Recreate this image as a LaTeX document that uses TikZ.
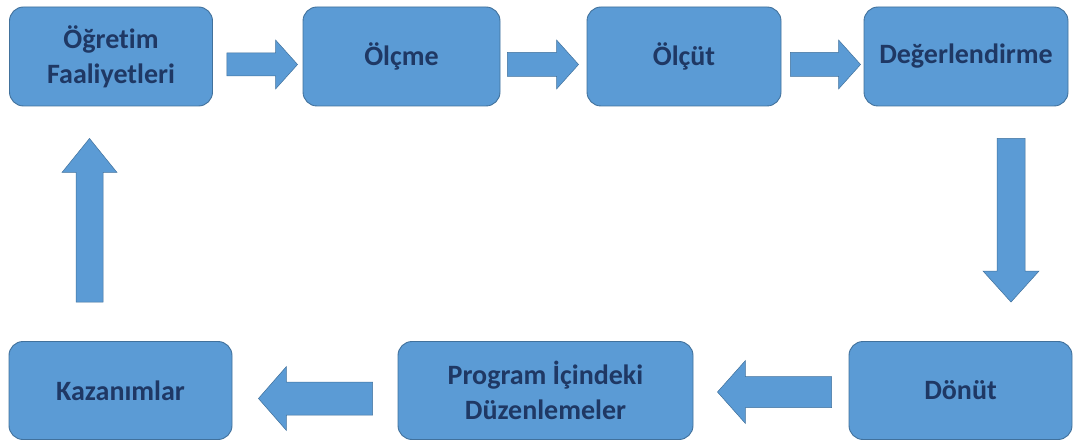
\documentclass[tikz,border=0pt]{standalone}
\usepackage{fontspec}
\setmainfont{Carlito}[Ligatures=NoCommon]
\usetikzlibrary{calc}
\definecolor{boxfill}{RGB}{91,155,213}
\definecolor{boxline}{RGB}{65,113,156}
\definecolor{boxtext}{RGB}{31,56,100}
\tikzset{
  stage/.style={draw=boxline, line width=0.9pt, fill=boxfill, rounded corners=14pt,
    inner sep=0pt, align=center, text=boxtext,
    font=\fontsize{28}{35}\selectfont\bfseries},
  blockarrow/.style={draw=boxline, line width=0.5pt, fill=boxfill, line join=miter}
}
% block arrow from #1 (tail) to #2 (tip): shaft half width #3, head half width #4, head length #5
\newcommand{\blockarrow}[5]{%
  \coordinate (ba-h) at ($(#2)!#5!(#1)$);
  \draw[blockarrow]
    ($(#1)!#3!90:(#2)$) -- ($(ba-h)!#3!-90:(#1)$) -- ($(ba-h)!#4!-90:(#1)$) --
    (#2) -- ($(ba-h)!#4!90:(#1)$) -- ($(ba-h)!#3!90:(#1)$) --
    ($(#1)!#3!-90:(#2)$) -- cycle;}
\begin{document}
\begin{tikzpicture}[x=1pt, y=-1pt]
  \useasboundingbox (0,0) rectangle (1075,446);

  % top row
  \node[stage, minimum width=203pt, minimum height=99pt] (ogretim) at (111,56.5) {Öğretim\\Faaliyetleri};
  \node[stage, minimum width=197pt, minimum height=99pt] (olcme) at (401.5,56.5) {Ölçme};
  \node[stage, minimum width=194pt, minimum height=99pt] (olcut) at (684,56.5) {Ölçüt};
  \node[stage, minimum width=204pt, minimum height=99pt] (degerlendirme) at (966,56.5) {Değerlendirme};

  % bottom row
  \node[stage, minimum width=223pt, minimum height=98pt] (donut) at (960.5,390.5) {Dönüt};
  \node[stage, minimum width=295pt, minimum height=98pt] (program) at (545.5,390.5) {Program İçindeki\\Düzenlemeler};
  \node[stage, minimum width=223pt, minimum height=98pt] (kazanimlar) at (120.5,390.5) {Kazanımlar};

  % arrow end points
  \coordinate (a1s) at ($(ogretim.east)+(14,8)$);
  \coordinate (a1e) at ($(a1s -| olcme.west)+(-5,0)$);
  \coordinate (a2s) at ($(olcme.east)+(7,8)$);
  \coordinate (a2e) at ($(a2s -| olcut.west)+(-8,0)$);
  \coordinate (a3s) at ($(olcut.east)+(9,8)$);
  \coordinate (a3e) at ($(a3s -| degerlendirme.west)+(-3,0)$);
  \coordinate (a4s) at ($(degerlendirme.south)+(45,32)$);
  \coordinate (a4e) at ($(a4s |- donut.north)+(0,-39)$);
  \coordinate (a5s) at ($(donut.west)+(-17,1.5)$);
  \coordinate (a5e) at ($(a5s -| program.east)+(24,0)$);
  \coordinate (a6s) at ($(program.west)+(-25,8)$);
  \coordinate (a6e) at ($(a6s -| kazanimlar.east)+(26,0)$);
  \coordinate (a7s) at ($(kazanimlar.north)+(-31,-39)$);
  \coordinate (a7e) at ($(a7s |- ogretim.south)+(0,32)$);

  \blockarrow{a1s}{a1e}{11.5pt}{24.5pt}{22pt}
  \blockarrow{a2s}{a2e}{12pt}{24.5pt}{22pt}
  \blockarrow{a3s}{a3e}{12pt}{24.5pt}{22pt}
  \blockarrow{a4s}{a4e}{14pt}{28pt}{31pt}
  \blockarrow{a5s}{a5e}{15.5pt}{31.5pt}{28pt}
  \blockarrow{a6s}{a6e}{16.5pt}{32pt}{28pt}
  \blockarrow{a7s}{a7e}{13.5pt}{27.5pt}{34pt}
\end{tikzpicture}
\end{document}
